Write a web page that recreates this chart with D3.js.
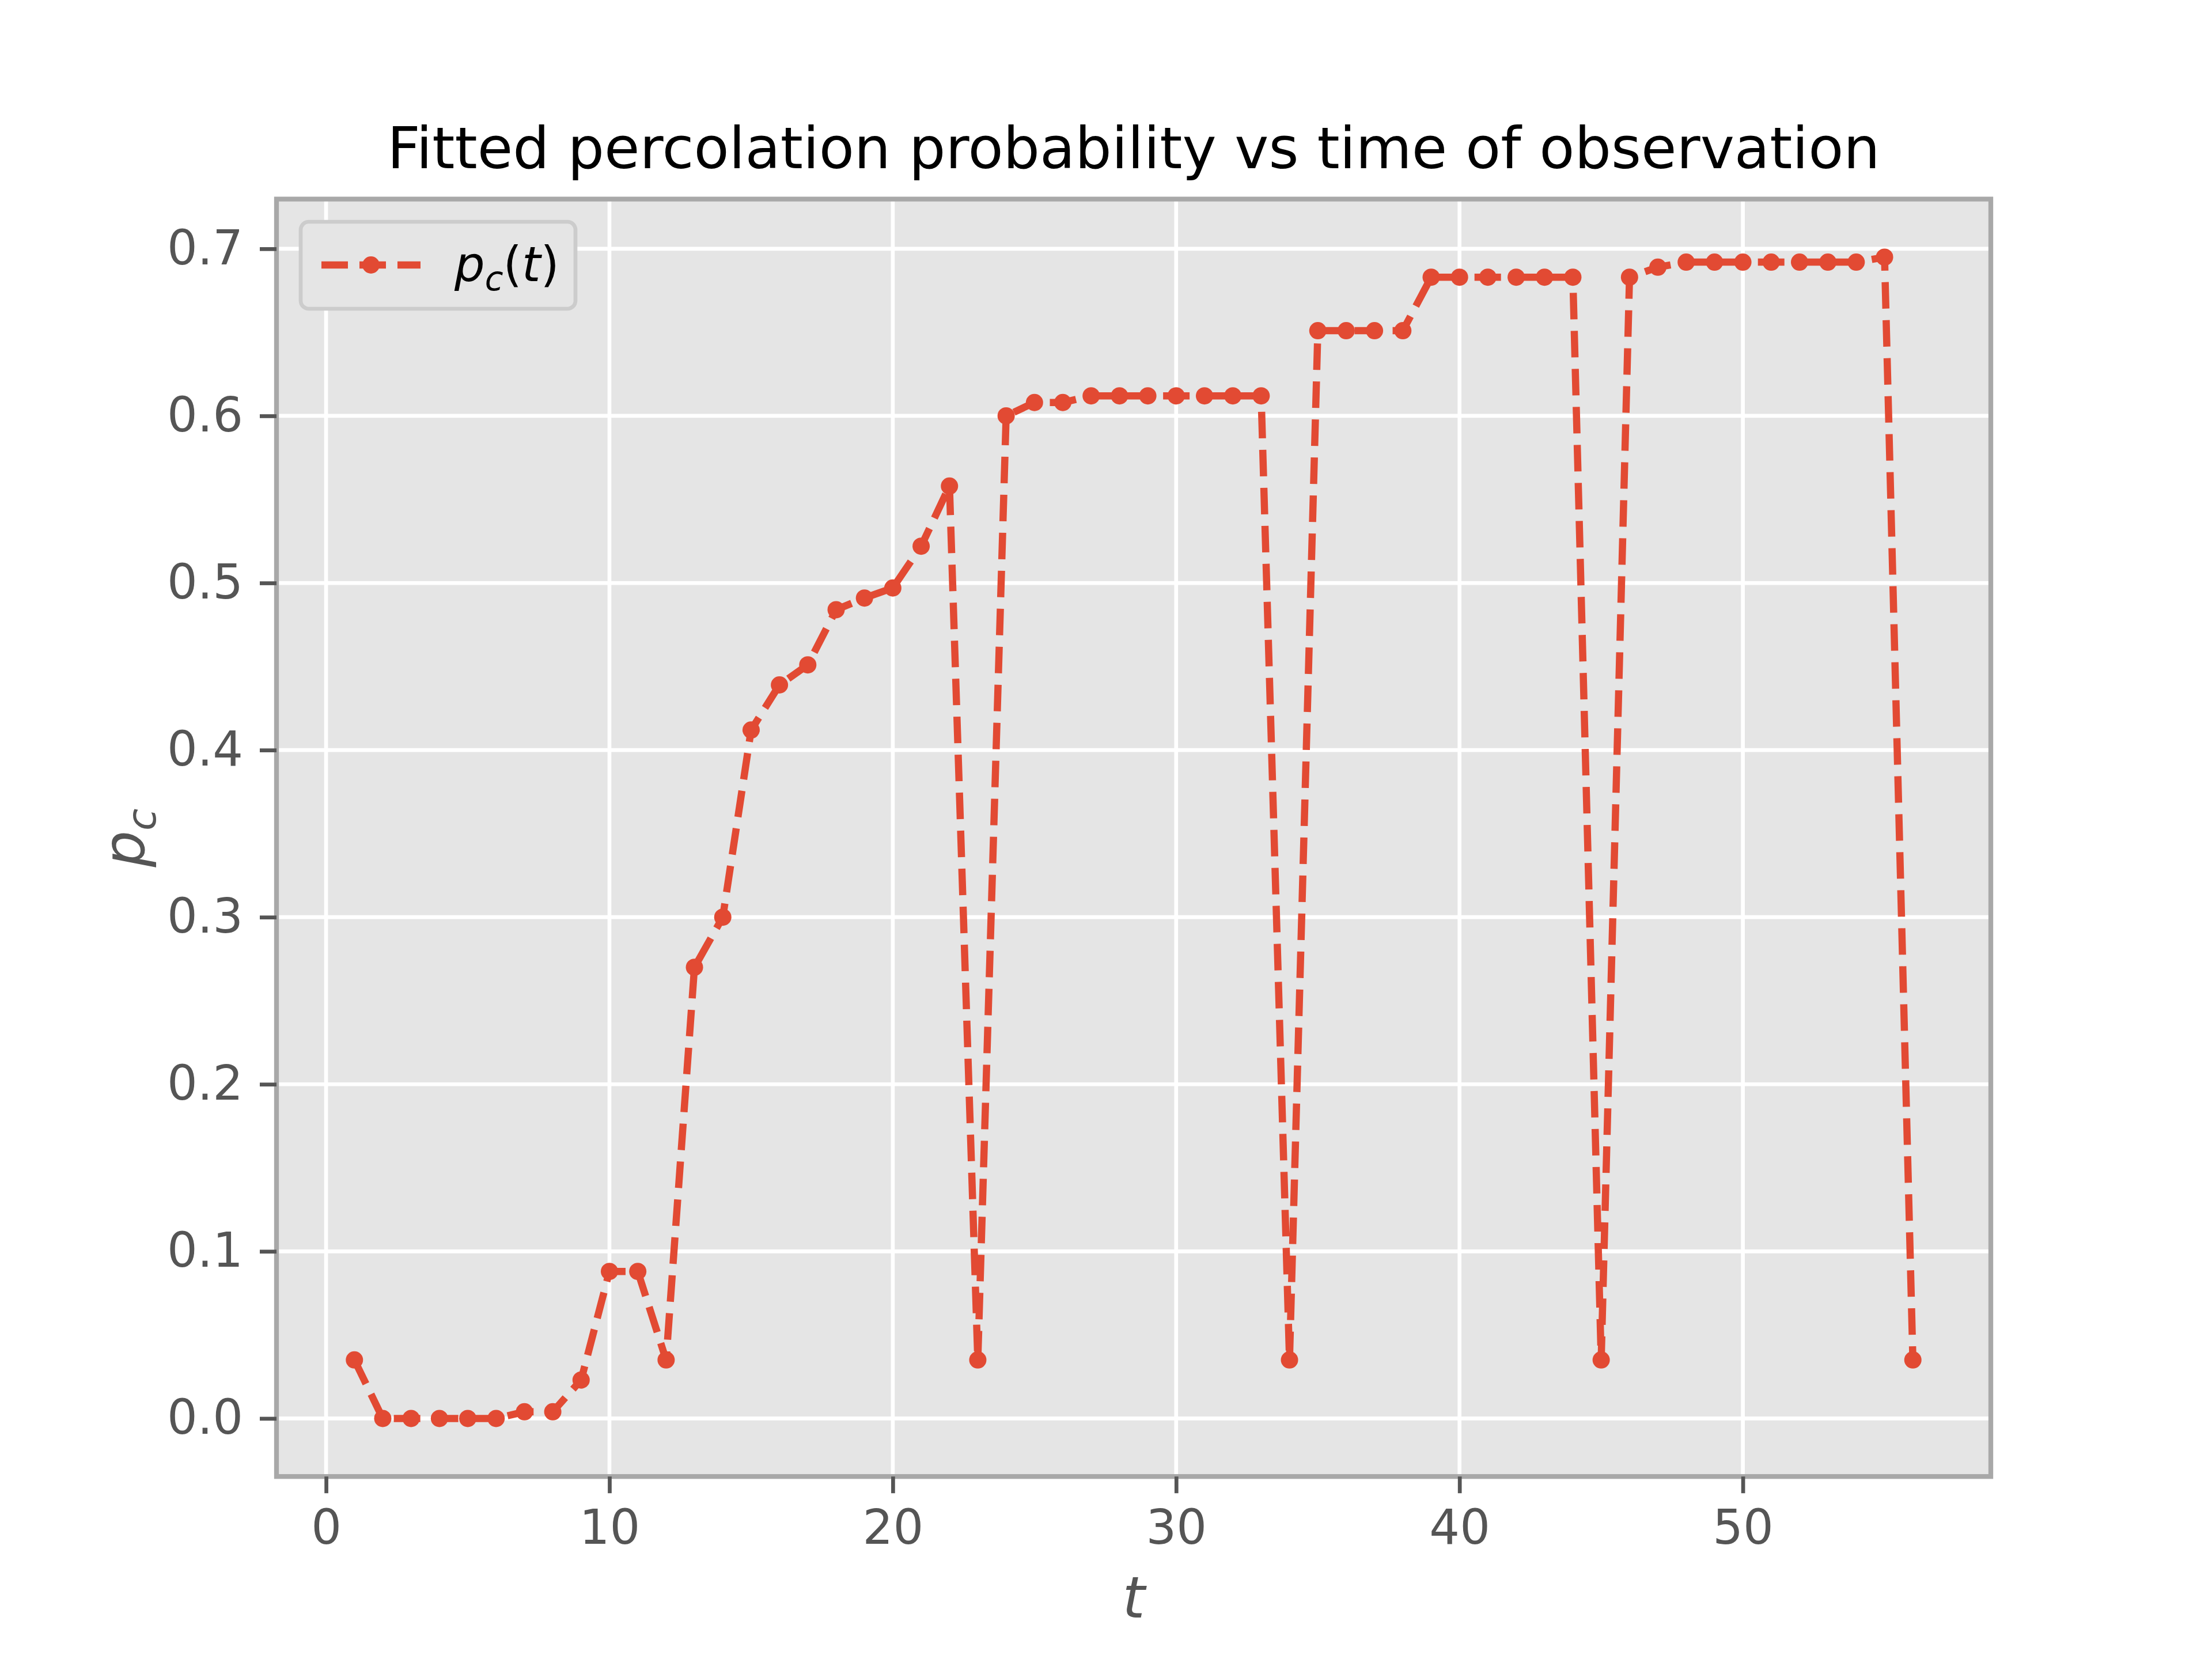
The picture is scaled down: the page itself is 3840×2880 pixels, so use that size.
<!DOCTYPE html>
<html><head><meta charset="utf-8">
<script src="https://cdn.jsdelivr.net/npm/d3@7"></script>
<style>body{margin:0;background:#fff}</style></head>
<body><svg id="c" width="3840" height="2880"></svg>
<script>
const tValues = d3.range(1, 57);
const pcValues = [0.035,0,0,0,0,0,0.004,0.004,0.023,0.088,0.088,0.035,0.270,0.300,0.412,0.439,0.451,0.484,0.491,0.497,0.522,0.558,0.035,0.600,0.608,0.608,0.612,0.612,0.612,0.612,0.612,0.612,0.612,0.035,0.651,0.651,0.651,0.651,0.683,0.683,0.683,0.683,0.683,0.683,0.035,0.683,0.689,0.692,0.692,0.692,0.692,0.692,0.692,0.692,0.695,0.035];
const xTicks = [0,10,20,30,40,50];
const yTicks = [0,0.1,0.2,0.3,0.4,0.5,0.6,0.7];
const data = tValues.map((t,i)=>({t, p: pcValues[i]}));

const L=480,R=3456,T=345.6,B=2563.2;
const svg=d3.select("#c");
const font="DejaVu Sans";
const x=d3.scaleLinear().domain([-1.75,58.75]).range([L,R]);
const y=d3.scaleLinear().domain([-0.03475,0.72975]).range([B,T]);
const col="#E24A33";

svg.append("rect").attr("x",L).attr("y",T).attr("width",R-L).attr("height",B-T).attr("fill","#E5E5E5");
const g=svg.append("g");
xTicks.forEach(v=>g.append("line").attr("x1",x(v)).attr("x2",x(v)).attr("y1",T).attr("y2",B).attr("stroke","#fff").attr("stroke-width",6.7));
yTicks.forEach(v=>g.append("line").attr("y1",y(v)).attr("y2",y(v)).attr("x1",L).attr("x2",R).attr("stroke","#fff").attr("stroke-width",6.7));
svg.append("rect").attr("x",L).attr("y",T).attr("width",R-L).attr("height",B-T).attr("fill","none").attr("stroke","#A8A8A8").attr("stroke-width",8.3);

const xa=svg.append("g").attr("transform",`translate(0,${B})`).call(d3.axisBottom(x).tickValues(xTicks).tickFormat(d3.format("d")).tickSize(29).tickSizeOuter(0).tickPadding(29));
const ya=svg.append("g").attr("transform",`translate(${L},0)`).call(d3.axisLeft(y).tickValues(yTicks).tickFormat(d3.format(".1f")).tickSize(29).tickSizeOuter(0).tickPadding(29));
[xa,ya].forEach(a=>{a.select(".domain").remove();a.selectAll("line").attr("stroke","#555555").attr("stroke-width",6.7);
 a.selectAll("text").attr("fill","#555555").attr("font-family",font).attr("font-size",83);});

const line=d3.line().x(d=>x(d.t)).y(d=>y(d.p));
svg.append("path").datum(data).attr("d",line).attr("fill","none").attr("stroke",col).attr("stroke-width",12.5).attr("stroke-dasharray","46,20");
svg.selectAll("circle.m").data(data).enter().append("circle").attr("cx",d=>x(d.t)).attr("cy",d=>y(d.p)).attr("r",15).attr("fill",col);

svg.append("text").attr("x",(L+R)/2).attr("y",292).attr("text-anchor","middle").attr("font-family",font).attr("font-size",100).text("Fitted percolation probability vs time of observation");
svg.append("text").attr("x",(L+R)/2).attr("y",2808).attr("text-anchor","middle").attr("font-family",font).attr("font-style","italic").attr("font-size",100).attr("fill","#555555").text("t");
const yl=svg.append("text").attr("transform",`translate(250,${(T+B)/2}) rotate(-90)`).attr("text-anchor","middle").attr("font-family",font).attr("font-style","italic").attr("font-size",100).attr("fill","#555555");
yl.append("tspan").text("p");yl.append("tspan").attr("font-size",70).attr("dy",20).text("c");

// legend
svg.append("rect").attr("x",522).attr("y",385).attr("width",477).attr("height",151).attr("rx",14).attr("fill","#E5E5E5").attr("stroke","#CCCCCC").attr("stroke-width",6.7);
svg.append("line").attr("x1",558).attr("x2",730).attr("y1",460).attr("y2",460).attr("stroke",col).attr("stroke-width",12.5).attr("stroke-dasharray","46,20");
svg.append("circle").attr("cx",644).attr("cy",460).attr("r",15).attr("fill",col);
const lt=svg.append("text").attr("x",789).attr("y",488).attr("font-family",font).attr("font-size",83);
lt.append("tspan").attr("font-style","italic").text("p");
lt.append("tspan").attr("font-style","italic").attr("font-size",58).attr("dy",16).text("c");
lt.append("tspan").attr("dy",-16).text("(");
lt.append("tspan").attr("font-style","italic").text("t");
lt.append("tspan").text(")");
</script></body></html>
